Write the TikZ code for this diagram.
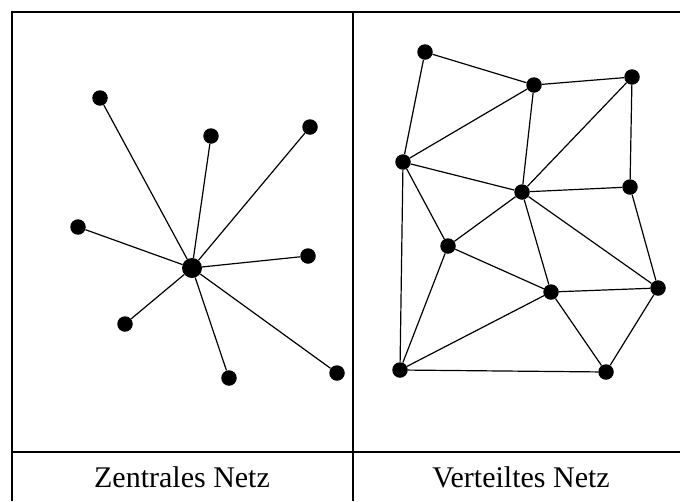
\documentclass[tikz,border=0pt]{standalone}
\usepackage{fontspec}
\setmainfont{Liberation Serif}
\begin{document}
\begin{tikzpicture}[x=1pt, y=-1pt,
  dot/.style={circle, fill=black, inner sep=0pt, minimum size=15.5pt},
  hub/.style={dot, minimum size=20pt},
  link/.style={line width=1.2pt},
  rule/.style={line width=2.2pt},
  font=\fontsize{30}{36}\selectfont]
  \useasboundingbox (0,0) rectangle (680,501);
  % table lines
  \draw[rule] (12,501) -- (12,12) -- (680,12);
  \draw[rule] (353,12) -- (353,501);
  \draw[rule] (12,452) -- (680,452);
  \node[anchor=base] (zentral) at (182,487) {Zentrales Netz};
  \node[anchor=base] (verteilt) at (521,487) {Verteiltes Netz};

  % star: every node hangs on the hub
  \node[hub] (z) at (192,268) {};
  \foreach \n/\x/\y in {1/100/98, 2/211/136, 3/310/127, 4/78/227, 5/308/256, 6/125/324, 7/229/378, 8/337/373} {
    \node[dot] (z\n) at (\x,\y) {};
    \draw[link] (z) -- (z\n);
  }

  % mesh
  \foreach \n/\x/\y in {a/425/52, b/534/85, c/632/77, d/403/162, e/522/192, f/630/187, g/448/246, h/551/292, i/658/288, j/400/370, k/606/372}
    \node[dot] (\n) at (\x,\y) {};
  \foreach \u/\v in {a/b, a/d, b/c, b/d, b/e, c/e, c/f, d/e, d/g, d/j, e/f, e/g, e/h, e/i, f/i, g/h, g/j, h/j, h/i, h/k, i/k, j/k}
    \draw[link] (\u) -- (\v);
\end{tikzpicture}
\end{document}
